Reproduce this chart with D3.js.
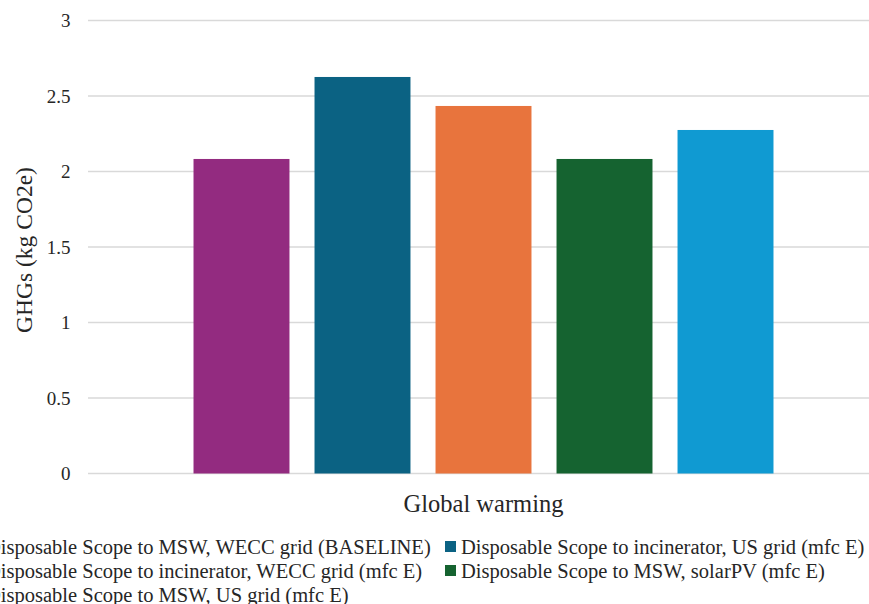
<!DOCTYPE html>
<html>
<head>
<meta charset="utf-8">
<script src="https://cdn.jsdelivr.net/npm/d3@7"></script>
<style>
  html, body { margin: 0; padding: 0; background: #fff; overflow: hidden; }
  svg { display: block; }
</style>
</head>
<body>
<svg id="chart" width="869" height="604"></svg>
<script>
// Data
const categories = ["Global warming"];
const seriesNames = [
  "Disposable Scope to MSW, WECC grid (BASELINE)",
  "Disposable Scope to incinerator, US grid (mfc E)",
  "Disposable Scope to incinerator, WECC grid (mfc E)",
  "Disposable Scope to MSW, solarPV (mfc E)",
  "Disposable Scope to MSW, US grid (mfc E)"
];
const seriesValues = [2.083, 2.626, 2.434, 2.083, 2.275];
const seriesColors = ["#932b80", "#0b6283", "#e8743d", "#156330", "#109ad2"];
const yTicks = [0, 0.5, 1, 1.5, 2, 2.5, 3];
const yTitle = "GHGs (kg CO2e)";

const FONT = "'Liberation Serif', 'Times New Roman', Times, serif";
const TEXT = "#262626";

const svg = d3.select("#chart");
const plot = { left: 88, right: 879, top: 20.5, bottom: 473.5 };

const y = d3.scaleLinear().domain([0, 3]).range([plot.bottom, plot.top]);
const x0 = d3.scaleBand().domain(categories).range([plot.left, plot.right]);
const x1 = d3.scaleBand().domain(seriesNames)
  .range([0, x0.bandwidth()])
  .paddingInner(0.207)
  .paddingOuter(0.872);

// Horizontal gridlines
svg.append("g").selectAll("line").data(yTicks).join("line")
  .attr("x1", plot.left).attr("x2", plot.right)
  .attr("y1", d => y(d)).attr("y2", d => y(d))
  .attr("stroke", "#d9d9d9").attr("stroke-width", 1.5);

// Y axis labels
const yAxis = d3.axisLeft(y).tickValues(yTicks).tickSize(0).tickPadding(17.5)
  .tickFormat(d3.format("~g"));
const gy = svg.append("g").attr("transform", `translate(${plot.left},0)`).call(yAxis);
gy.select(".domain").remove();
gy.selectAll("text")
  .style("font-family", FONT).style("font-size", "19px").attr("fill", TEXT);

// Bars
const groups = svg.append("g").selectAll("g").data(categories).join("g")
  .attr("transform", d => `translate(${x0(d)},0)`);
groups.selectAll("rect")
  .data(() => seriesNames.map((s, i) => ({ s, v: seriesValues[i], c: seriesColors[i] })))
  .join("rect")
  .attr("x", d => x1(d.s)).attr("width", x1.bandwidth())
  .attr("y", d => y(d.v)).attr("height", d => y(0) - y(d.v))
  .attr("fill", d => d.c);

// Category label
svg.append("g").selectAll("text").data(categories).join("text")
  .attr("x", d => x0(d) + x0.bandwidth() / 2)
  .attr("y", 512)
  .attr("text-anchor", "middle")
  .style("font-family", FONT).style("font-size", "24.5px").attr("fill", TEXT)
  .text(d => d);

// Y axis title
svg.append("text")
  .attr("transform", `translate(32,250) rotate(-90)`)
  .attr("text-anchor", "middle")
  .style("font-family", FONT).style("font-size", "23.5px").attr("fill", TEXT)
  .text(yTitle);

// Legend: two columns, filled row by row
const legendCols = [-30, 445];
const legendRows = [547, 571, 595];
const legend = svg.append("g").selectAll("g").data(seriesNames).join("g")
  .attr("transform", (d, i) => `translate(${legendCols[i % 2]},${legendRows[Math.floor(i / 2)]})`);
legend.append("rect")
  .attr("x", 0).attr("y", -6).attr("width", 11).attr("height", 11)
  .attr("fill", (d, i) => seriesColors[i]);
legend.append("text")
  .attr("x", 16).attr("y", 7)
  .style("font-family", FONT).style("font-size", "20.5px").attr("fill", TEXT)
  .text(d => d);
</script>
</body>
</html>
